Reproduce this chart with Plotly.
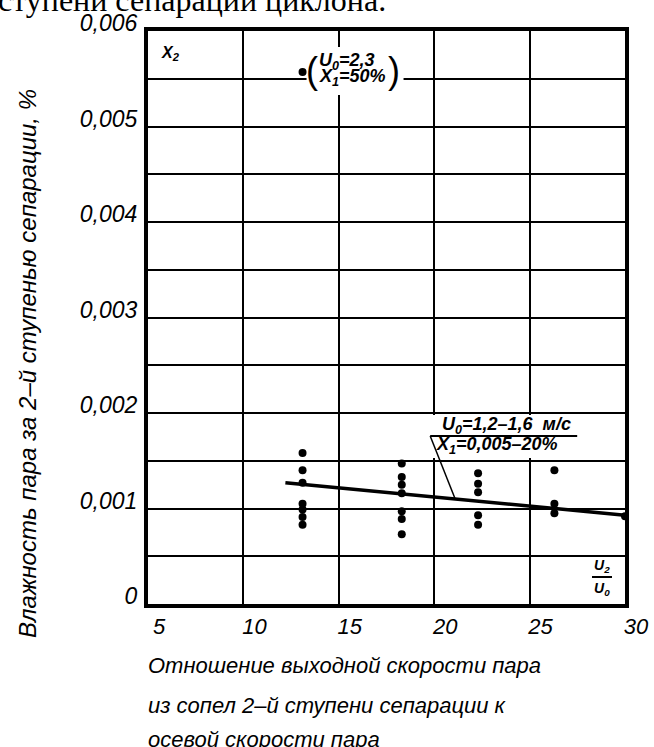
import numpy as np
import plotly.graph_objects as go

# ---------------- data ----------------
x_ticks = [5, 10, 15, 20, 25, 30]
x_tick_labels = ["5", "10", "15", "20", "25", "30"]
y_ticks = [0, 0.0005, 0.001, 0.0015, 0.002, 0.0025, 0.003, 0.0035, 0.004, 0.0045, 0.005, 0.0055, 0.006]
y_tick_labels = ["0", "", "0,001", "", "0,002", "", "0,003", "", "0,004", "", "0,005", "", "0,006"]

col_x = [13.1, 18.3, 22.3, 26.3, 30.0]
col1_y = [0.00158, 0.00140, 0.00127, 0.00105, 0.00099, 0.00091, 0.00083]
col2_y = [0.00147, 0.00133, 0.00125, 0.00116, 0.00097, 0.00089, 0.00073]
col3_y = [0.00137, 0.00126, 0.00117, 0.00093, 0.00083]
col4_y = [0.00140, 0.00105, 0.00095]
col5_y = [0.00092]

outlier_x = [13.1]
outlier_y = [0.00557]

trend_x = [12.2, 30.0]
trend_y = [0.00127, 0.00093]

callout_x = 21.1  # where the leader of the lower label meets the trend line

FONT = "Liberation Sans, Arial, sans-serif"

# ---------------- figure ----------------
W, H = 654, 747
L, R, T, B = 148, 625, 31, 604

fig = go.Figure()

pts_x, pts_y = [], []
for cx, ys in zip(col_x, [col1_y, col2_y, col3_y, col4_y, col5_y]):
    pts_x += [cx] * len(ys)
    pts_y += ys

fig.add_trace(go.Scatter(x=trend_x, y=trend_y, mode="lines",
                         line=dict(color="black", width=3.5), showlegend=False,
                         cliponaxis=False))
fig.add_trace(go.Scatter(x=pts_x, y=pts_y, mode="markers",
                         marker=dict(color="black", size=8), showlegend=False,
                         cliponaxis=False))
fig.add_trace(go.Scatter(x=outlier_x, y=outlier_y, mode="markers",
                         marker=dict(color="black", size=8), showlegend=False))

callout_y = float(np.interp(callout_x, trend_x, trend_y))

def px2paper_x(p):
    return (p - L) / (R - L)

def px2paper_y(p):
    return (B - p) / (B - T)

shapes = []
# white background boxes behind the labels (over grid, under traces)
shapes.append(dict(type="rect", layer="between", xref="x", yref="y",
                   xsizemode="pixel", ysizemode="pixel",
                   xanchor=outlier_x[0], yanchor=outlier_y[0],
                   x0=4, x1=101, y0=-23, y1=25,
                   fillcolor="white", line=dict(width=0)))
shapes.append(dict(type="rect", layer="between", xref="x", yref="y",
                   xsizemode="pixel", ysizemode="pixel",
                   xanchor=callout_x, yanchor=callout_y,
                   x0=-27, x1=125, y0=41, y1=84,
                   fillcolor="white", line=dict(width=0)))
# underline and leader line of the lower label
shapes.append(dict(type="line", layer="above", xref="x", yref="y",
                   xsizemode="pixel", ysizemode="pixel",
                   xanchor=callout_x, yanchor=callout_y,
                   x0=-25, x1=122, y0=63, y1=63,
                   line=dict(color="black", width=2)))
shapes.append(dict(type="line", layer="above", xref="x", yref="y",
                   xsizemode="pixel", ysizemode="pixel",
                   xanchor=callout_x, yanchor=callout_y,
                   x0=-25, x1=0, y0=63, y1=0,
                   line=dict(color="black", width=1.5)))
# fraction bar U2/U0
shapes.append(dict(type="line", layer="above", xref="x", yref="y",
                   xsizemode="pixel", ysizemode="pixel",
                   xanchor=x_ticks[-1], yanchor=y_ticks[0],
                   x0=-33, x1=-13, y0=27, y1=27,
                   line=dict(color="black", width=2)))

ann = []
lab = dict(family=FONT, size=18, color="black", style="italic", weight="bold")
# X2 corner label
ann.append(dict(x=x_ticks[0], y=y_ticks[-1], xref="x", yref="y", text="X<sub>2</sub>",
                showarrow=False, xanchor="left", yanchor="top", xshift=11, yshift=-11,
                font=dict(family=FONT, size=16, color="black", style="italic", weight="bold")))
# upper label next to the outlier
ann.append(dict(x=outlier_x[0], y=outlier_y[0], xref="x", yref="y", text="(",
                showarrow=False, xanchor="center", yanchor="middle", xshift=9, yshift=2,
                font=dict(family=FONT, size=36, color="black")))
ann.append(dict(x=outlier_x[0], y=outlier_y[0], xref="x", yref="y", text="U<sub>0</sub>=2,3",
                showarrow=False, xanchor="left", yanchor="middle", xshift=14, yshift=11,
                font=lab))
ann.append(dict(x=outlier_x[0], y=outlier_y[0], xref="x", yref="y", text="X<sub>1</sub>=50%",
                showarrow=False, xanchor="left", yanchor="middle", xshift=14, yshift=-5,
                font=lab))
ann.append(dict(x=outlier_x[0], y=outlier_y[0], xref="x", yref="y", text=")",
                showarrow=False, xanchor="center", yanchor="middle", xshift=91, yshift=2,
                font=dict(family=FONT, size=36, color="black")))
# lower label
lab2 = dict(family=FONT, size=18, color="black", style="italic", weight="bold")
ann.append(dict(x=callout_x, y=callout_y, xref="x", yref="y", text="U<sub>0</sub>=1,2–1,6  м/с",
                showarrow=False, xanchor="left", yanchor="middle", xshift=-15, yshift=73,
                font=lab2))
ann.append(dict(x=callout_x, y=callout_y, xref="x", yref="y", text="X<sub>1</sub>=0,005–20%",
                showarrow=False, xanchor="left", yanchor="middle", xshift=-21, yshift=53,
                font=lab2))
# fraction U2/U0
fr = dict(family=FONT, size=14, color="black", style="italic", weight="bold")
ann.append(dict(x=x_ticks[-1], y=y_ticks[0], xref="x", yref="y", text="U<sub>2</sub>",
                showarrow=False, xanchor="center", yanchor="middle", xshift=-23, yshift=38, font=fr))
ann.append(dict(x=x_ticks[-1], y=y_ticks[0], xref="x", yref="y", text="U<sub>0</sub>",
                showarrow=False, xanchor="center", yanchor="middle", xshift=-23, yshift=15, font=fr))

tf = dict(family=FONT, size=22, color="black", style="italic")
# y axis title
ann.append(dict(x=px2paper_x(27), y=px2paper_y(364), xref="paper", yref="paper",
                text="Влажность пара за 2–й ступенью сепарации, %", textangle=-90,
                showarrow=False, xanchor="center", yanchor="middle",
                font=dict(family=FONT, size=24, color="black", style="italic")))
# x axis title (three lines)
for txt, yc in [("Отношение выходной скорости пара", 665),
                ("из сопел 2–й ступени сепарации к", 705),
                ("осевой скорости пара", 739)]:
    ann.append(dict(x=px2paper_x(146), y=px2paper_y(yc), xref="paper", yref="paper",
                    text=txt, showarrow=False, xanchor="left", yanchor="middle", font=tf))
# clipped page text at the very top
ann.append(dict(x=px2paper_x(-4), y=px2paper_y(20), xref="paper", yref="paper",
                text="ступени сепарации циклона.", showarrow=False, xanchor="left", yanchor="bottom",
                font=dict(family="Liberation Serif, Times New Roman, serif", size=32, color="black")))

fig.update_layout(
    template="none",
    width=W, height=H,
    margin=dict(l=L, r=W - R, t=T, b=H - B, autoexpand=False),
    paper_bgcolor="white", plot_bgcolor="white",
    showlegend=False,
    shapes=shapes, annotations=ann,
    xaxis=dict(range=[5, 30], tickmode="array", tickvals=x_ticks, ticktext=x_tick_labels,
               showgrid=True, gridcolor="black", gridwidth=2, zeroline=False,
               showline=True, linecolor="black", linewidth=4, mirror=True, automargin=False,
               ticks="", ticklabelshift=11, ticklabelstandoff=0,
               tickfont=dict(family=FONT, size=22, color="black", style="italic")),
    yaxis=dict(range=[0, 0.006], tickmode="array", tickvals=y_ticks, ticktext=y_tick_labels,
               showgrid=True, gridcolor="black", gridwidth=2, zeroline=False,
               showline=True, linecolor="black", linewidth=4, mirror=True, automargin=False,
               ticks="", ticklabelshift=-8, ticklabelstandoff=2,
               tickfont=dict(family=FONT, size=23, color="black", style="italic")),
)

fig.write_html("out.html", config={"displayModeBar": False},
               post_script="document.body.style.margin='0px';")
